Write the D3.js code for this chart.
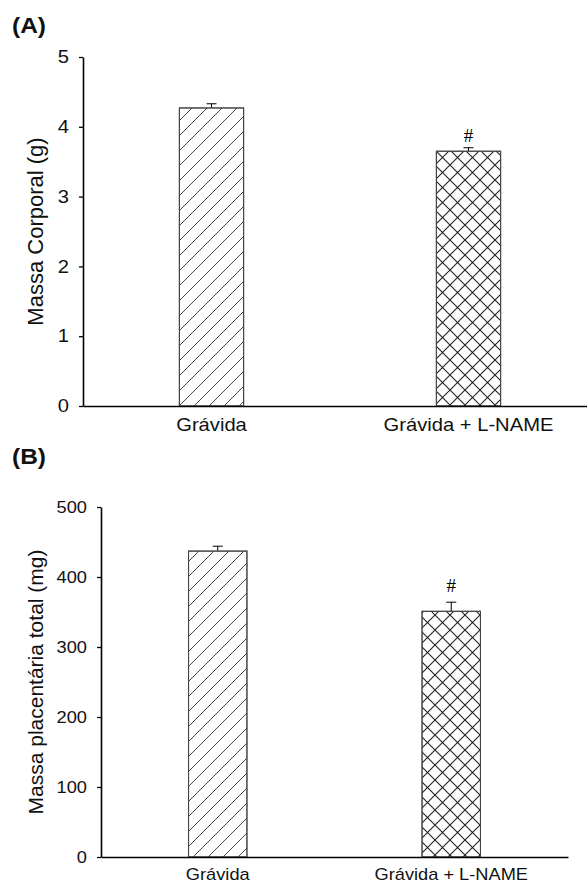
<!DOCTYPE html>
<html>
<head>
<meta charset="utf-8">
<script src="https://cdn.jsdelivr.net/npm/d3@7"></script>
<style>
  body { margin: 0; background: #fff; }
  svg { display: block; font-family: "Liberation Sans", Arial, sans-serif; }
</style>
</head>
<body>
<svg class="main-chart" width="587" height="886"></svg>
<script>
// data
var categories = ["Grávida", "Grávida + L-NAME"];
var patterns = ["hatch", "cross"];
var signif = ["", "#"];

var massaCorporal = [4.27, 3.65];
var massaCorporalErr = [0.06, 0.05];
var ticksCorporal = [0, 1, 2, 3, 4, 5];

var massaPlacenta = [437, 351];
var massaPlacentaErr = [7, 13];
var ticksPlacenta = [0, 100, 200, 300, 400, 500];

var svg = d3.select("svg.main-chart");
var stretch = 1.14; // the figure is slightly widened

////////////////////////////////////////////////////////////////
// hatch fills
////////////////////////////////////////////////////////////////
var defs = svg.append("defs");

defs.append("pattern")
  .attr("id", "hatch")
  .attr("patternUnits", "userSpaceOnUse")
  .attr("width", 15).attr("height", 15)
  .append("path")
  .attr("d", "M0,15 L15,0 M-3,3 L3,-3 M12,18 L18,12")
  .attr("stroke", "#333")
  .attr("stroke-width", 0.9);

defs.append("pattern")
  .attr("id", "cross")
  .attr("patternUnits", "userSpaceOnUse")
  .attr("width", 15).attr("height", 15)
  .append("path")
  .attr("d", "M0,15 L15,0 M-3,3 L3,-3 M12,18 L18,12 M0,0 L15,15 M-3,12 L3,18 M12,-3 L18,3")
  .attr("stroke", "#222")
  .attr("stroke-width", 1.1);

function drawPanel(p) {
  var g = svg.append("g");
  var xScale = d3.scaleBand().domain(categories).range([p.left, p.right]);
  var yScale = d3.scaleLinear().domain(p.domain).range([p.bottom, p.top]);
  var barW = xScale.bandwidth() * 0.25;

  var rows = categories.map(function(c, i) {
    return { cat: c, v: p.values[i], e: p.errors[i], fill: patterns[i], mark: signif[i] };
  });

  // error bars (drawn under the bars so only the upper half shows)
  g.selectAll("line.err")
    .data(rows)
    .enter()
    .append("line")
    .attr("class", "err")
    .attr("x1", (d) => xScale(d.cat) + xScale.bandwidth() / 2)
    .attr("x2", (d) => xScale(d.cat) + xScale.bandwidth() / 2)
    .attr("y1", (d) => yScale(d.v))
    .attr("y2", (d) => yScale(d.v + d.e))
    .attr("stroke", "#000");

  g.selectAll("line.cap")
    .data(rows)
    .enter()
    .append("line")
    .attr("class", "cap")
    .attr("x1", (d) => xScale(d.cat) + xScale.bandwidth() / 2 - 5)
    .attr("x2", (d) => xScale(d.cat) + xScale.bandwidth() / 2 + 5)
    .attr("y1", (d) => yScale(d.v + d.e))
    .attr("y2", (d) => yScale(d.v + d.e))
    .attr("stroke", "#000");

  g.selectAll("rect.bar")
    .data(rows)
    .enter()
    .append("rect")
    .attr("class", "bar")
    .attr("x", (d) => xScale(d.cat) + (xScale.bandwidth() - barW) / 2)
    .attr("y", (d) => yScale(d.v))
    .attr("width", barW)
    .attr("height", (d) => yScale(0) - yScale(d.v))
    .attr("fill", "#fff")
    .attr("stroke", "#444")
    .attr("stroke-width", 1);

  g.selectAll("rect.pat")
    .data(rows)
    .enter()
    .append("rect")
    .attr("class", "pat")
    .attr("x", (d) => xScale(d.cat) + (xScale.bandwidth() - barW) / 2)
    .attr("y", (d) => yScale(d.v))
    .attr("width", barW)
    .attr("height", (d) => yScale(0) - yScale(d.v))
    .attr("fill", (d) => "url(#" + d.fill + ")")
    .attr("stroke", "#444")
    .attr("stroke-width", 1);

  g.selectAll("text.mark")
    .data(rows.filter((d) => d.mark))
    .enter()
    .append("text")
    .attr("class", "mark")
    .attr("x", (d) => xScale(d.cat) + xScale.bandwidth() / 2)
    .attr("y", (d) => yScale(d.v + d.e) - p.markGap)
    .attr("text-anchor", "middle")
    .attr("font-family", "Liberation Serif, Times New Roman, serif")
    .attr("font-size", 19)
    .text((d) => d.mark);

  // axes
  var yAxis = d3.axisLeft(yScale).tickValues(p.ticks).tickFormat(d3.format("d"))
    .tickSize(4).tickSizeOuter(0).tickPadding(10);
  var yG = g.append("g").attr("transform", "translate(" + p.left + ",0)").call(yAxis);
  yG.select(".domain").attr("stroke-width", 1.6);
  yG.selectAll(".tick line").attr("stroke-width", 1.3);
  yG.selectAll(".tick text")
    .attr("font-size", p.tickFont)
    .attr("font-family", "Liberation Sans, Arial, sans-serif")
    .attr("fill", "#111")
    .attr("x", -14 / stretch)
    .attr("transform", "scale(" + stretch + ",1)");

  var xAxis = d3.axisBottom(xScale).tickSize(0).tickSizeOuter(0).tickPadding(12);
  var xG = g.append("g").attr("transform", "translate(0," + p.bottom + ")").call(xAxis);
  xG.select(".domain").attr("stroke-width", 1.6);
  xG.selectAll(".tick text")
    .attr("font-size", p.tickFont)
    .attr("font-family", "Liberation Sans, Arial, sans-serif")
    .attr("fill", "#111")
    .attr("transform", "scale(" + stretch + ",1)");

  g.append("text")
    .text(p.title)
    .attr("text-anchor", "middle")
    .attr("font-size", p.titleFont)
    .attr("fill", "#111")
    .attr("transform", "translate(" + p.titleX + "," + (p.top + p.bottom) / 2 + ")rotate(-90)");

  g.append("text")
    .text(p.label)
    .attr("font-weight", "bold")
    .attr("font-size", 21.5)
    .attr("fill", "#111")
    .attr("transform", "translate(" + p.labelX + "," + p.labelY + ")scale(" + stretch + ",1)");
}

drawPanel({
  values: massaCorporal, errors: massaCorporalErr, ticks: ticksCorporal, domain: [0, 5],
  left: 83, right: 597, top: 57, bottom: 406,
  title: "Massa Corporal (g)", titleX: 43, titleFont: 22,
  tickFont: 17.7, markGap: 6,
  label: "(A)", labelX: 12, labelY: 32.5
});

drawPanel({
  values: massaPlacenta, errors: massaPlacentaErr, ticks: ticksPlacenta, domain: [0, 500],
  left: 101, right: 568, top: 507, bottom: 857,
  title: "Massa placentária total (mg)", titleX: 43, titleFont: 21,
  tickFont: 16, markGap: 10,
  label: "(B)", labelX: 12, labelY: 464
});
</script>
</body>
</html>
